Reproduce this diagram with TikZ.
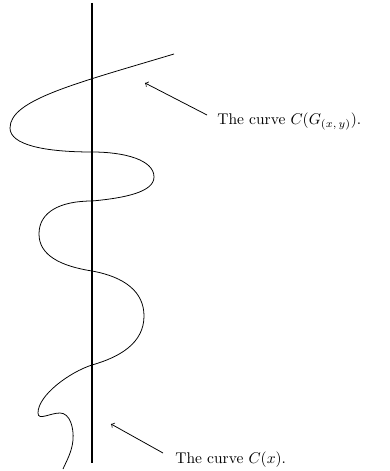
\documentclass[tikz,border=0pt]{standalone}
\usetikzlibrary{positioning}

\begin{document}
\begin{tikzpicture}[x=0.645pt,y=-0.645pt]
  % --- Frame (pixel-like units, y downwards) ---
  \useasboundingbox (0,0) rectangle (390,471);

  % --- Parameters ---
  \def\xax{92}     % x-position of the straight curve C(x)
  \def\ytop{3}     % top end of C(x)
  \def\ybot{463}   % bottom end of C(x)

  % --- The straight curve C(x) ---
  \draw[line width=1.2pt] (\xax,\ytop) -- (\xax,\ybot);

  % --- The wavy curve C(G_(x,y)) ---
  % swings left / right of C(x), crossing it at x = \xax
  \draw[line width=0.5pt]
       (174,54) .. controls (74,84) and (10,100) .. (10,128)      % out to the far left
                .. controls (10,145) and (45,152) .. (\xax,152)
                .. controls (125,152) and (154,160) .. (154,177)  % right lobe
                .. controls (154,192) and (125,198) .. (\xax,201)
                .. controls (60,201) and (39,212) .. (39,234)     % left lobe
                .. controls (39,255) and (60,266) .. (\xax,271)
                .. controls (125,277) and (144,292) .. (144,316)  % right lobe
                .. controls (144,343) and (120,357) .. (\xax,365)
                .. controls (70,372) and (38,395) .. (38,413)     % small hook
                .. controls (38,421) and (50,413) .. (60,413)
                .. controls (70,413) and (74,428) .. (73,440)
                .. controls (72,452) and (66,462) .. (63,469);

  % --- Labels ---
  \node[anchor=base west,inner sep=0pt] (lblG) at (217,125)
       {The curve $C(G_{(x,\,y)})$.};
  \node[anchor=base west,inner sep=0pt] (lblX) at (175,463)
       {The curve $C(x)$.};

  % --- Arrow tips on the curves ---
  \coordinate (tipG) at (145,83);
  \coordinate (tipX) at (111,424);

  \draw[->,line width=0.5pt] ([shift={(-10,-10)}]lblG.base west) -- (tipG);
  \draw[->,line width=0.5pt] ([shift={(-12,-10)}]lblX.base west) -- (tipX);
\end{tikzpicture}
\end{document}
